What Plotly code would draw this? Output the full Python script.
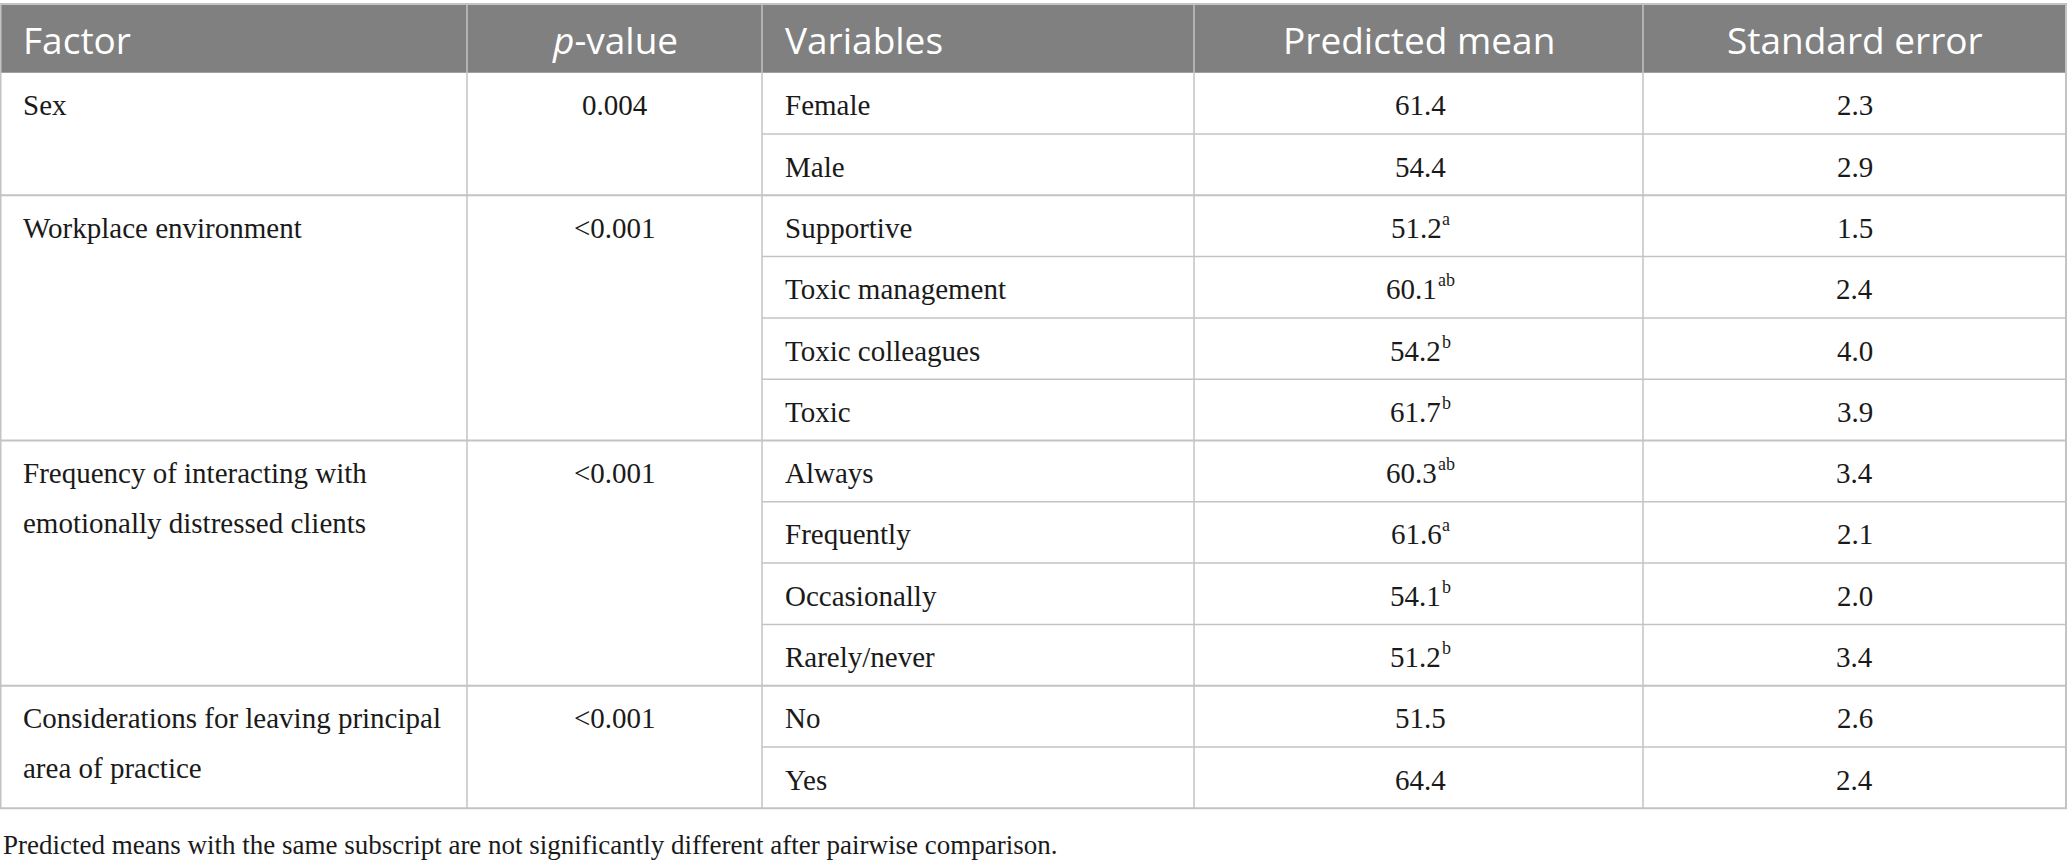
import plotly.graph_objects as go

# table content
headers = ["Factor", "<i>p</i>-value", "Variables", "Predicted mean", "Standard error"]
factor_lines = [
    ["Sex"],
    ["Workplace environment"],
    ["Frequency of interacting with", "emotionally distressed clients"],
    ["Considerations for leaving principal", "area of practice"],
]
p_values = ["0.004", "<0.001", "<0.001", "<0.001"]
group_sizes = [2, 4, 4, 2]
variables = ["Female", "Male", "Supportive", "Toxic management", "Toxic colleagues", "Toxic",
             "Always", "Frequently", "Occasionally", "Rarely/never", "No", "Yes"]
pred_mean = [61.4, 54.4, 51.2, 60.1, 54.2, 61.7, 60.3, 61.6, 54.1, 51.2, 51.5, 64.4]
mean_sup = ["", "", "a", "ab", "b", "b", "ab", "a", "b", "b", "", ""]
std_err = [2.3, 2.9, 1.5, 2.4, 4.0, 3.9, 3.4, 2.1, 2.0, 3.4, 2.6, 2.4]
footnote = "Predicted means with the same subscript are not significantly different after pairwise comparison."

# geometry (pixels, figure is drawn on a 1:1 pixel axis)
W, H = 2067, 861
col_edges = [0, 467, 762, 1194, 1643, W - 1]
head_top, head_bot = 5, 72.7
row_h = 61.3
line_gap = 50
grid = "#c3c3c3"
head_fill = "#7f807f"
ink = "#1a1a1a"
serif = "Liberation Serif"
sans = "Open Sans"
body_size = 29
sup_size = 18

n_rows = len(variables)
table_bot = head_bot + n_rows * row_h

# rough glyph widths (em) of Liberation Serif, used to centre number + superscript
glyph_w = {".": 0.25, "a": 0.444, "b": 0.5}


def text_w(s, size):
    return sum(glyph_w.get(c, 0.5) for c in s) * size


def row_mid(i):
    return head_bot + (i + 0.5) * row_h


fig = go.Figure()
# invisible trace so the axes exist
fig.add_trace(go.Scatter(x=[0, W], y=[0, H], mode="markers", marker_opacity=0,
                         hoverinfo="skip", showlegend=False))

shapes = []
# header band
shapes.append(dict(type="rect", x0=0, x1=W - 1, y0=head_top, y1=head_bot,
                   fillcolor=head_fill, line_width=0, layer="below"))

annotations = []
# header text
for j, h in enumerate(headers):
    left = j in (0, 2)
    x = col_edges[j] + 21 if left else (col_edges[j] + col_edges[j + 1]) / 2
    annotations.append(dict(x=x, y=(head_top + head_bot) / 2 + 1, text=h,
                            xanchor="left" if left else "center", yanchor="middle",
                            font=dict(family=sans, size=37, color="white")))

# body rows
for i in range(n_rows):
    y = row_mid(i) + 2
    annotations.append(dict(x=col_edges[2] + 21, y=y, text=variables[i], xanchor="left",
                            yanchor="middle", font=dict(family=serif, size=body_size, color=ink)))
    num = f"{pred_mean[i]:.1f}"
    cx = (col_edges[3] + col_edges[4]) / 2
    nw = text_w(num, body_size)
    sw = text_w(mean_sup[i], sup_size) + (1 if mean_sup[i] else 0)
    x_left = cx - (nw + sw) / 2
    annotations.append(dict(x=x_left, y=y, text=num, xanchor="left", yanchor="middle",
                            font=dict(family=serif, size=body_size, color=ink)))
    if mean_sup[i]:
        annotations.append(dict(x=x_left + nw + 1, y=y - 9, text=mean_sup[i], xanchor="left",
                                yanchor="middle", font=dict(family=serif, size=sup_size, color=ink)))
    annotations.append(dict(x=(col_edges[4] + col_edges[5]) / 2, y=y, text=f"{std_err[i]:.1f}",
                            xanchor="center", yanchor="middle",
                            font=dict(family=serif, size=body_size, color=ink)))

# factor groups
start = 0
for g, size in enumerate(group_sizes):
    y0 = row_mid(start) + 2
    for k, ln in enumerate(factor_lines[g]):
        annotations.append(dict(x=col_edges[0] + 21, y=y0 + k * line_gap, text=ln,
                                xanchor="left", yanchor="middle",
                                font=dict(family=serif, size=body_size, color=ink)))
    annotations.append(dict(x=(col_edges[1] + col_edges[2]) / 2, y=y0, text=p_values[g],
                            xanchor="center", yanchor="middle",
                            font=dict(family=serif, size=body_size, color=ink)))
    # row lines inside the group (right part only)
    for r in range(start + 1, start + size):
        yy = head_bot + r * row_h
        shapes.append(dict(type="line", x0=col_edges[2], x1=col_edges[5], y0=yy, y1=yy,
                           line=dict(color=grid, width=1.5)))
    start += size
    if start < n_rows:
        yy = head_bot + start * row_h
        shapes.append(dict(type="line", x0=0, x1=col_edges[5], y0=yy, y1=yy,
                           line=dict(color=grid, width=2)))

# column dividers
for x in col_edges[1:-1]:
    shapes.append(dict(type="line", x0=x, x1=x, y0=head_top, y1=table_bot,
                       line=dict(color=grid, width=1.5)))
# outer frame
shapes.append(dict(type="rect", x0=0.5, x1=col_edges[5], y0=head_top - 1, y1=table_bot,
                   line=dict(color=grid, width=2), fillcolor="rgba(0,0,0,0)"))

annotations.append(dict(x=1, y=table_bot + 37, text=footnote, xanchor="left", yanchor="middle",
                        font=dict(family=serif, size=27, color=ink)))

for a in annotations:
    a.update(xref="x", yref="y", showarrow=False)

fig.update_layout(
    width=W, height=H,
    margin=dict(l=0, r=0, t=0, b=0),
    paper_bgcolor="white", plot_bgcolor="white",
    xaxis=dict(range=[0, W], visible=False, fixedrange=True),
    yaxis=dict(range=[H, 0], visible=False, fixedrange=True),
    shapes=shapes, annotations=annotations,
    showlegend=False,
)

fig.write_html("out.html", config={"displayModeBar": False},
               post_script="document.body.style.margin='0';")
